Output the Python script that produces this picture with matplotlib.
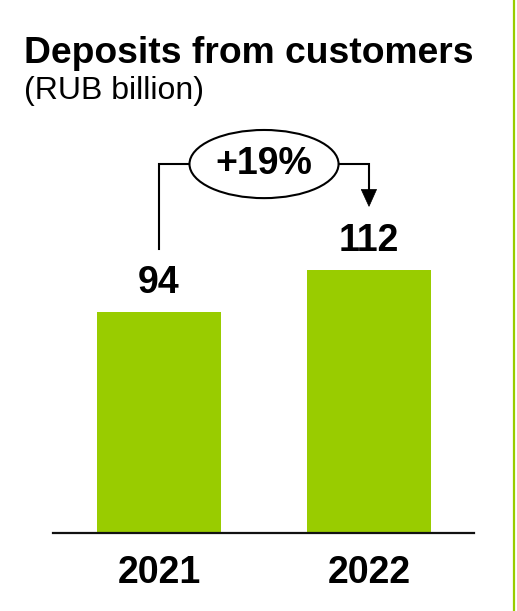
import matplotlib
matplotlib.use("Agg")
import matplotlib.pyplot as plt
from matplotlib.patches import Ellipse, Polygon
from matplotlib.lines import Line2D

plt.rcParams['font.family'] = ['Liberation Sans', 'DejaVu Sans']

# Data
years = ["2021", "2022"]
deposits = [94, 112]
growth_label = "+19%"

title = "Deposits from customers"
subtitle = "(RUB billion)"

GREEN = "#99CC00"

W, H, DPI = 517, 611, 100
fig = plt.figure(figsize=(W / DPI, H / DPI), dpi=DPI)


def fx(px):
    return px / W


def fy(py):
    return 1 - py / H


# Axes placed in pixel terms: baseline at y=533, from x=53 to x=474
ax_left, ax_right, ax_bottom, ax_top = 53, 474, 533, 100
ax = fig.add_axes([fx(ax_left), fy(ax_bottom), fx(ax_right - ax_left), (ax_bottom - ax_top) / H])

px_per_unit = 2.35
ax.set_ylim(0, (ax_bottom - ax_top) / px_per_unit)
ax.set_xlim(-0.505, 1.5)

x = list(range(len(years)))
ax.bar(x, deposits, width=0.59, color=GREEN, zorder=2)

for side in ("top", "right", "left"):
    ax.spines[side].set_visible(False)
ax.spines["bottom"].set_linewidth(1.6)
ax.spines["bottom"].set_color("#111111")
ax.set_yticks([])
ax.set_xticks(x)
ax.set_xticklabels(years, fontsize=27, fontweight="bold")
ax.tick_params(axis="x", length=0, pad=16)

# Value labels above bars
for xi, v in zip(x, deposits):
    ax.annotate(str(v), (xi, v), xytext=(0, 29), textcoords="offset pixels",
                ha="center", va="center", fontsize=27, fontweight="bold")

# Growth bracket from the first bar to the second
lw = 1.5
start_y = deposits[0] + 27
tip_y = deposits[1] + 27
top_y = 157
ell_x = 0.5 * (x[0] + x[1])
ell_w, ell_h = 0.71, 29
ax.plot([x[0], x[0], ell_x - ell_w / 2], [start_y, top_y, top_y], color="black", lw=lw,
        solid_joinstyle="miter", zorder=3)
head_len, head_w = 7.2, 0.072
ax.plot([ell_x + ell_w / 2, x[1], x[1]], [top_y, top_y, tip_y + head_len], color="black", lw=lw,
        solid_joinstyle="miter", zorder=3)
ax.add_patch(Polygon([[x[1] - head_w / 2 - 0.001, tip_y + head_len], [x[1] + head_w / 2, tip_y + head_len],
                      [x[1], tip_y]], closed=True, facecolor="black", edgecolor="black", lw=0.5, zorder=3))
ax.add_patch(Ellipse((ell_x, top_y), ell_w, ell_h, facecolor="white", edgecolor="black", lw=lw, zorder=4))
ax.text(ell_x, top_y, growth_label, ha="center", va="center", fontsize=27, fontweight="bold", zorder=5)

# Title block
fig.text(fx(24.5), fy(63), title, ha="left", va="baseline", fontsize=26.8, fontweight="bold")
fig.text(fx(24), fy(99), subtitle, ha="left", va="baseline", fontsize=23)

# Green divider on the right edge
fig.add_artist(Line2D([fx(514), fx(514)], [0, 1], color=GREEN, lw=1.6, transform=fig.transFigure))

fig.savefig("out.png", dpi=DPI)
